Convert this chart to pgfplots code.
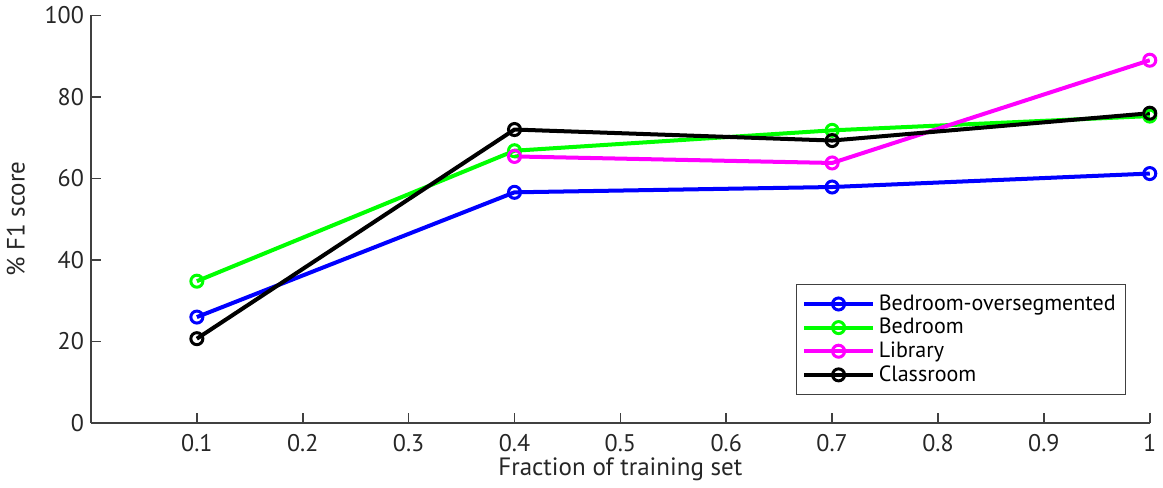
\documentclass[border=0pt]{standalone}
\usepackage{pgfplots}
\pgfplotsset{compat=1.18}
\usepackage{fontspec}
\setmainfont{PT Sans}
\definecolor{mag}{RGB}{255,0,255}
\definecolor{grn}{RGB}{0,255,0}
\begin{document}
\begin{tikzpicture}
\begin{axis}[
  scale only axis,
  width=528.5pt, height=203.5pt,
  xmin=0, xmax=1, ymin=0, ymax=100,
  axis x line*=bottom, axis y line*=left,
  axis line style={line width=0.9pt, black!75},
  xtick={0.1,0.2,0.3,0.4,0.5,0.6,0.7,0.8,0.9,1},
  xticklabels={0.1,0.2,0.3,0.4,0.5,0.6,0.7,0.8,0.9,1},
  ytick={0,20,40,60,80,100},
  tick align=inside,
  major tick length=5pt,
  tick style={line width=0.8pt, black!75},
  /pgf/number format/assume math mode=true,
  tick label style={font=\fontsize{12}{14}\selectfont, text=black!85},
  xticklabel style={yshift=-2pt},
  xlabel={Fraction of training set},
  ylabel={\% F1 score},
  label style={font=\fontsize{12.5}{15}\selectfont, text=black!85},
  xlabel style={yshift=4pt},
  ylabel style={yshift=3pt},
  legend style={at={(0.978,0.069)}, anchor=south east, draw=black!75, line width=0.7pt,
    font=\fontsize{11}{12.5}\selectfont, row sep=-1.5pt, inner sep=3pt},
  legend cell align=left,
  legend image code/.code={\draw[mark repeat=2,mark phase=2] plot coordinates {(0cm,0cm) (0.6cm,0cm) (1.2cm,0cm)};},
  every axis plot/.append style={line width=2pt, mark=o, mark size=3pt,
    mark options={line width=1.5pt}},
]
\addplot[color=blue] coordinates {(0.1,26.0) (0.4,56.6) (0.7,57.9) (1,61.2)};
\addlegendentry{Bedroom-oversegmented}
\addplot[color=grn] coordinates {(0.1,34.8) (0.4,66.8) (0.7,71.8) (1,75.3)};
\addlegendentry{Bedroom}
\addplot[color=mag] coordinates {(0.4,65.4) (0.7,63.8) (1,89.0)};
\addlegendentry{Library}
\addplot[color=black] coordinates {(0.1,20.7) (0.4,72.0) (0.7,69.3) (1,76.0)};
\addlegendentry{Classroom}
\end{axis}
\end{tikzpicture}
\end{document}
